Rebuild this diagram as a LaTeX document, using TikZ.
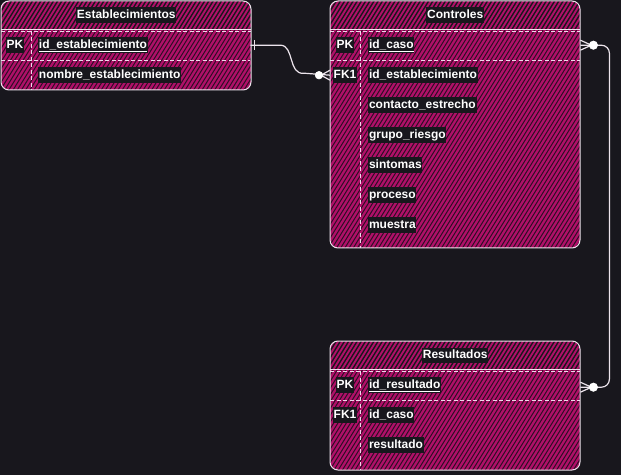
\documentclass[tikz,border=0pt]{standalone}
\usepackage{fontspec}
\setmainfont{Liberation Sans}
\usetikzlibrary{calc}
\definecolor{bg}{RGB}{24,23,29}
\definecolor{mag}{RGB}{176,16,104}
\definecolor{magdk}{RGB}{46,14,38}
\definecolor{edgec}{RGB}{236,228,236}
\definecolor{dashc}{RGB}{240,215,235}
\tikzset{
  txt/.style={fill=bg, text=white, inner xsep=0.8bp, inner ysep=1.2bp, text height=10bp, text depth=3bp},
  fld/.style={txt, anchor=west},
  rowbox/.style={minimum width=250bp, minimum height=30bp, inner sep=0pt, anchor=north west},
  outline/.style={draw=edgec, line width=1bp, rounded corners=8bp},
  sep/.style={draw=dashc, line width=0.8bp, dash pattern=on 4bp off 2.5bp},
  hline/.style={draw=edgec, line width=1bp},
  conn/.style={draw=edgec, line width=1.2bp},
  blob/.style={fill=white, draw=white, line width=0.6bp}
}
% hatch lines "/" between x #1..#3, y #2 (top) .. #4 (bottom), colour #5, width #6
\newcommand\hatchfill[6]{%
  \pgfmathsetmacro\hh{#4-(#2)}%
  \pgfmathsetmacro\ddx{0.62*\hh}%
  \pgfmathsetmacro\tsa{#1-\ddx}%
  \pgfmathsetmacro\tsb{#1-\ddx+4.2}%
  \pgfmathsetmacro\tse{#3}%
  \foreach \t in {\tsa,\tsb,...,\tse} \draw[#5, line width=#6] (\t,#4) -- ++(\ddx,-\hh);%
}
\newcommand\ertable[3]{% x, y top, y bottom
  \begin{scope}
    \clip[rounded corners=8bp] (#1,#2) rectangle ({#1+250},#3);
    \fill[mag] (#1,#2) rectangle ({#1+250},#3);
    \hatchfill{#1}{#2}{#1+250}{#3}{magdk}{1bp}
    \fill[bg] (#1,#2) rectangle ({#1+250},{#2+29});
    \hatchfill{#1}{#2}{#1+250}{#2+29}{mag}{1.9bp}
  \end{scope}
  \draw[sep] (#1,{#2+30}) -- ({#1+250},{#2+30});
  \draw[sep] ({#1+30},{#2+30}) -- ({#1+30},#3);
  \draw[hline] (#1,{#2+28.5}) -- ({#1+250},{#2+28.5});
  \draw[outline] (#1,#2) rectangle ({#1+250},#3);
}
\begin{document}
\begin{tikzpicture}[x=1bp,y=-1bp, font=\fontsize{12bp}{14bp}\selectfont\bfseries]
\fill[bg] (0,0) rectangle (621,475);
\useasboundingbox (0,0) rectangle (621,475);

% ---------- Establecimientos ----------
\ertable{1}{1}{90}
\draw[sep] (1,60) -- (250,60);
\node[rowbox] (e-h) at (1,0) {};
\node[rowbox] (e-pk) at (0,30) {};
\node[rowbox] (e-r2) at (0,60) {};
\node[txt] (e-t) at (e-h.center) {Establecimientos};
\node[txt] (e-pkl) at (15,45) {PK};
\node[fld] (e-f1) at (38,45) {\underline{id\_establecimiento}};
\node[fld] (e-f2) at (38,75) {nombre\_establecimiento};

% ---------- Controles ----------
\ertable{330}{1}{248}
\draw[sep] (330,60) -- (580,60);
\node[rowbox] (c-h) at (330,0) {};
\node[rowbox] (c-pk) at (330,30) {};
\node[rowbox] (c-fk) at (330,60) {};
\node[txt] (c-t) at (c-h.center) {Controles};
\node[txt] (c-pkl) at (345,45) {PK};
\node[fld] (c-f1) at (368,45) {\underline{id\_caso}};
\node[txt] (c-fkl) at (345,75) {FK1};
\node[fld] (c-f2) at (368,75) {id\_establecimiento};
\node[fld] (c-f3) at (368,105) {contacto\_estrecho};
\node[fld] (c-f4) at (368,135) {grupo\_riesgo};
\node[fld] (c-f5) at (368,165) {sintomas};
\node[fld] (c-f6) at (368,195) {proceso};
\node[fld] (c-f7) at (368,225) {muestra};

% ---------- Resultados ----------
\ertable{330}{341}{470}
\draw[sep] (330,400) -- (580,400);
\node[rowbox] (r-h) at (330,340) {};
\node[rowbox] (r-pk) at (330,372) {};
\node[rowbox] (r-fk) at (330,400) {};
\node[txt] (r-t) at (r-h.center) {Resultados};
\node[txt] (r-pkl) at (345,385) {PK};
\node[fld] (r-f1) at (368,385) {\underline{id\_resultado}};
\node[txt] (r-fkl) at (345,415) {FK1};
\node[fld] (r-f2) at (368,415) {id\_caso};
\node[fld] (r-f3) at (368,445) {resultado};

% ---------- connectors ----------
\draw[conn] (e-pk.east) -- ++(30,0) .. controls +(14,0) and ($(c-fk.west)+(-42,0)$) .. ($(c-fk.west)+(-26,-2)$) -- (c-fk.west);
\draw[conn] ($(e-pk.east)+(4,-5)$) -- ($(e-pk.east)+(4,5)$);
\draw[conn] ($(c-fk.west)+(-9,0)$) -- ($(c-fk.west)+(0,-5)$);
\draw[conn] ($(c-fk.west)+(-9,0)$) -- ($(c-fk.west)+(0,5)$);
\filldraw[blob] ($(c-fk.west)+(-11,0)$) circle (3.8bp);

\draw[conn, rounded corners=8bp] (c-pk.east) -- ++(29,0) |- (r-pk.east);
\foreach \n in {c-pk, r-pk}{
  \draw[conn] ($(\n.east)+(11,0)$) -- ($(\n.east)+(0,-5)$);
  \draw[conn] ($(\n.east)+(11,0)$) -- ($(\n.east)+(0,5)$);
  \filldraw[blob] ($(\n.east)+(13,0)$) circle (4.2bp);
}
\end{tikzpicture}
\end{document}
